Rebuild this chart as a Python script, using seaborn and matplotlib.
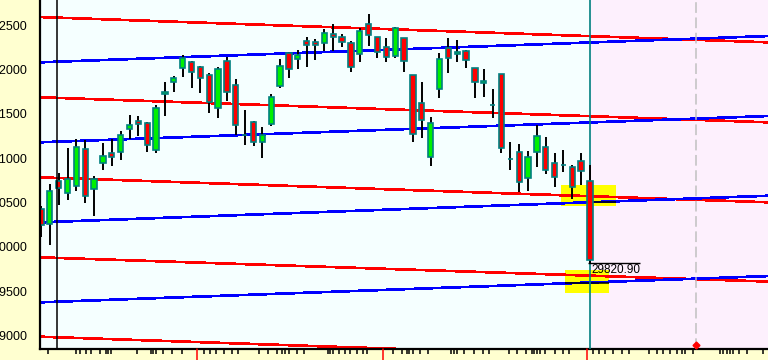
import numpy as np
import pandas as pd
import matplotlib
matplotlib.use("Agg")
import matplotlib.pyplot as plt
from matplotlib.patches import Rectangle
import seaborn as sns

# ---- data -------------------------------------------------------------
opens = [30427, 30255, 30743, 30608, 30690, 31103, 30649, 30942, 31058, 31073,
         31325, 31422, 31399, 31092, 31719, 31861, 32012, 32087, 32024, 31937,
         31568, 32098, 31824, 31260, 31404, 31179, 31381, 31813, 32181, 32114,
         32320, 32305, 32294, 32395, 32361, 32294, 32170, 32508, 32361, 32256,
         32154, 32350, 31933, 31618, 31016, 31776, 32238, 32170, 32211, 32012,
         31843, 31599, 31945, 30991, 31073, 30773, 31066, 31129, 30942, 30923,
         30904, 30968, 30743]
highs = [30461, 30709, 30833, 31114, 31216, 31205, 30799, 31174, 31212, 31306,
         31486, 31475, 31407, 31599, 31861, 31926, 32162, 32094, 32038, 31956,
         32030, 32136, 31892, 31542, 31419, 31354, 31719, 32117, 32192, 32218,
         32368, 32342, 32455, 32508, 32395, 32320, 32463, 32621, 32365, 32350,
         32481, 32357, 31937, 31861, 31460, 32188, 32350, 32331, 32218, 32012,
         32001, 31776, 31948, 31185, 31159, 31084, 31374, 31242, 31061, 31092,
         30923, 31055, 30923]
lows = [30112, 30022, 30472, 30529, 30633, 30495, 30352, 30867, 30912, 30979,
        31212, 31250, 31073, 31061, 31478, 31749, 31918, 31787, 31737, 31512,
        31456, 31647, 31261, 31143, 31140, 31005, 31366, 31787, 31906, 32001,
        32030, 32106, 32211, 32207, 32256, 31974, 32080, 32267, 32125, 32080,
        32132, 31974, 31185, 31224, 30915, 31681, 31963, 32087, 32012, 31681,
        31692, 31449, 31061, 30867, 30622, 30633, 30897, 30822, 30672, 30847,
        30537, 30698, 29820.90]
closes = [30247, 30630, 30664, 30765, 31129, 30574, 30762, 31024, 31016, 31261,
          31374, 31381, 31148, 31568, 31742, 31900, 32132, 31974, 31900, 31636,
          32001, 31742, 31374, 31260, 31185, 31261, 31686, 32038, 32001, 32162,
          32275, 32271, 32407, 32368, 32305, 32024, 32432, 32387, 32192, 32136,
          32463, 32098, 31269, 31430, 31393, 32114, 32125, 32192, 32106, 31855,
          31873, 31599, 31111, 30991, 30735, 31016, 31253, 30867, 30784, 30923,
          30672, 30859, 29853]

red_left = [32590, 31686, 30784, 29883, 28989]
red_right = [32305, 31404, 30503, 29610, 28709]
blue_left = [32080, 31179, 30277, 29376]
blue_right = [32376, 31475, 30577, 29672]

y_ticks = [29000, 29500, 30000, 30500, 31000, 31500, 32000, 32500]
y_tick_labels = ["29000", "29500", "30000", "30500", "31000", "31500", "32000", "32500"]
low_value = 29820.90
low_label = "29820.90"
level_marks = [30503, 29597]

# ---- style / layout ---------------------------------------------------
sns.set_theme(style="white")
plt.rcParams['font.family'] = ['Liberation Sans', 'DejaVu Sans']

W, H = 768, 360
fig = plt.figure(figsize=(W / 100, H / 100), dpi=100, facecolor='#FFFFD0')
ax = fig.add_axes([40 / W, 10.7 / H, 728 / W, 349.3 / H])
ax.set_facecolor('#F5FFFF')

x_left, x_right = -0.11, 82.1
ax.set_xlim(x_left, x_right)
ax.set_ylim(28847, 32782)

def px2idx(px):
    return (px - 41.0) / 8.855

df = pd.DataFrame({"i": np.arange(len(opens)), "open": opens, "high": highs,
                   "low": lows, "close": closes})

# pink future zone
ax.axvspan(62, x_right, color='#FDF0FD', zorder=0.5, lw=0)

# yellow highlights
ax.add_patch(Rectangle((58.7, 30464), 6.2, 234, facecolor='#FFFF00', lw=0, zorder=1))
ax.add_patch(Rectangle((59.2, 29477), 4.9, 263, facecolor='#FFFF00', lw=0, zorder=1))

# trend lines
for l, r in zip(red_left, red_right):
    sns.lineplot(x=[x_left, x_right], y=[l, r], color='#FF0000', lw=1.2,
                 ax=ax, antialiased=False, zorder=2)
for l, r in zip(blue_left, blue_right):
    sns.lineplot(x=[x_left, x_right], y=[l, r], color='#0000FF', lw=1.2,
                 ax=ax, antialiased=False, zorder=2)

# level marks inside highlights
ax.hlines(level_marks[0], 61.5, 64.9, color='black', lw=1.1, zorder=2.5)
ax.hlines(level_marks[1], 59.2, 64.2, color='black', lw=1.1, zorder=2.5)

# vertical lines
ax.axvline(px2idx(57.3), color='black', lw=1.1, zorder=5)
ax.axvline(62, color='#008080', lw=1.2, zorder=2.6)
ax.axvline(74, color='#C0C0C0', lw=1.1, dashes=(7, 3), zorder=2.6)

# candles
ax.vlines(df["i"], df["low"], df["high"], color='black', lw=1.4, zorder=3)
up = df["close"] >= df["open"]
colors = np.where(up, '#00F000', '#FF0000')
bottoms = np.minimum(df["open"], df["close"])
heights = np.abs(df["close"] - df["open"])
ax.bar(df["i"], heights, bottom=bottoms, width=0.6, color=colors,
       edgecolor='#008080', linewidth=1.2, zorder=4)

# low label
ax.hlines(low_value, px2idx(588), px2idx(640), color='black', lw=1.0, zorder=5)
ax.text(px2idx(591), low_value - 15, low_label, ha='left', va='top',
        fontsize=8.5, color='black', zorder=6)

# red marker at bottom
ax.plot([74], [28898], marker='D', color='#FF0000', ms=3.5, zorder=6, clip_on=False)

# axes styling
for s in ['top', 'right']:
    ax.spines[s].set_visible(False)
for s in ['left', 'bottom']:
    ax.spines[s].set_color('black')
    ax.spines[s].set_linewidth(1.6)
ax.spines['left'].set_zorder(7)

ax.set_yticks(y_ticks)
ax.set_yticklabels(y_tick_labels)
ax.tick_params(axis='y', direction='out', length=7, width=1.3, colors='black',
               labelsize=9, pad=2)

major_px = [57.3, 73.3, 127.7, 250, 321, 445, 501.7, 642.7, 710.7, 757.3]
minor_px = [48.3, 76, 80, 86, 90.7, 100, 106, 108.3, 111, 136.7, 150.7, 153.3,
            155.7, 163.3, 171.7, 181.7, 204, 210, 216, 224, 231.7, 238.3, 259.3,
            268.3, 277.3, 281.7, 285, 289, 296.7, 304.3, 327.7, 330, 332.7, 339.3,
            345, 350, 357.3, 363.3, 366.7, 392.7, 401.7, 406.7, 409.3, 412.7, 420,
            427.7, 451, 454, 456.7, 464.3, 474, 483.3, 489.3, 509.3, 516.7, 525.7,
            531.7, 534.3, 536.7, 540, 545, 555, 562.7, 569.3, 593.3, 599.3, 605,
            613.3, 621.7, 629.3, 649.3, 656.7, 663.3, 670, 676.7, 681.7, 685,
            693.3, 720, 723.3, 726.7, 730, 733.3, 739.3, 746.7, 763.3]
red_px = [197.3, 383.3, 587.3]
ax.set_xticks([px2idx(p) for p in major_px])
ax.set_xticks([px2idx(p) for p in minor_px], minor=True)
ax.set_xticklabels([])
ax.tick_params(axis='x', which='major', direction='out', length=7, width=1.3,
               colors='black', labelbottom=False)
ax.tick_params(axis='x', which='minor', direction='out', length=3.5, width=1.1,
               colors='black', bottom=True)
xt = ax.get_xaxis_transform()
for p in red_px:
    ax.plot([px2idx(p)] * 2, [0, -0.04], color='#FF0000', lw=1.1,
            transform=xt, clip_on=False, zorder=8)

ax.grid(False)
fig.savefig("out.png", dpi=100, facecolor=fig.get_facecolor())
